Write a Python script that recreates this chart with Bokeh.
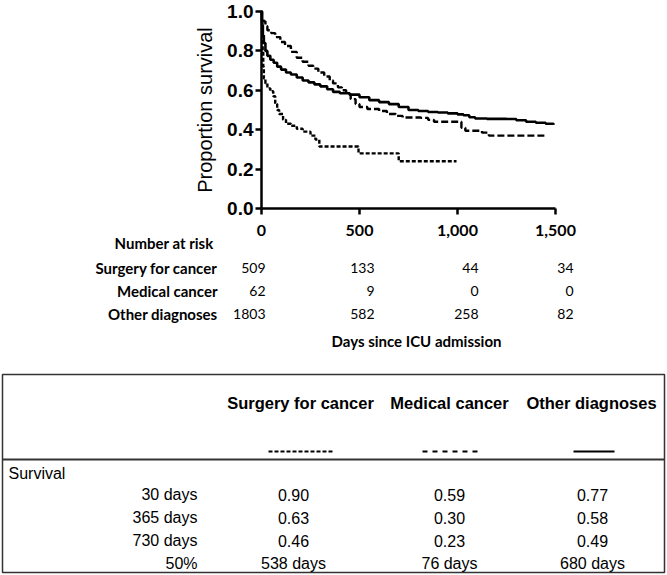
from bokeh.plotting import figure
from bokeh.models import (Range1d, FixedTicker, PrintfTickFormatter,
                          NumeralTickFormatter, ColumnDataSource)
from bokeh.embed import file_html
from bokeh.resources import INLINE
from bokeh.core.properties import value

# ---------------- data ----------------
other_t = [0, 3, 7, 12, 20, 30, 45, 62, 80, 100, 125, 150, 180, 210, 240, 270,
           300, 335, 365, 400, 450, 500, 550, 600, 650, 700, 750, 800, 850, 900,
           950, 1000, 1030, 1060, 1090, 1150, 1250, 1300, 1350, 1400, 1450, 1490]
other_s = [1.0, 0.93, 0.88, 0.84, 0.80, 0.775, 0.755, 0.74, 0.72, 0.705, 0.69, 0.68,
           0.665, 0.65, 0.64, 0.63, 0.62, 0.605, 0.592, 0.585, 0.578, 0.565, 0.55,
           0.54, 0.53, 0.515, 0.50, 0.495, 0.49, 0.487, 0.483, 0.478, 0.473, 0.463,
           0.457, 0.455, 0.454, 0.448, 0.44, 0.435, 0.43, 0.425]

surg_t = [0, 2, 10, 20, 30, 50, 70, 96, 120, 150, 180, 210, 240, 264, 290, 320,
          348, 365, 390, 410, 432, 455, 480, 500, 540, 600, 640, 685, 720, 813,
          850, 880, 1000, 1020, 1040, 1125, 1160, 1455]
surg_s = [1.0, 0.97, 0.95, 0.925, 0.905, 0.89, 0.87, 0.845, 0.825, 0.795, 0.765,
          0.745, 0.725, 0.71, 0.69, 0.67, 0.65, 0.635, 0.615, 0.60, 0.58, 0.555,
          0.53, 0.515, 0.505, 0.495, 0.48, 0.47, 0.462, 0.46, 0.45, 0.44, 0.44,
          0.41, 0.395, 0.385, 0.37, 0.37]

med_t = [0, 2, 4, 6, 9, 12, 20, 30, 45, 60, 70, 80, 90, 110, 125, 150, 180, 210,
         250, 275, 295, 495, 700, 995]
med_s = [1.0, 0.95, 0.87, 0.80, 0.72, 0.66, 0.635, 0.61, 0.595, 0.57, 0.53, 0.50,
         0.48, 0.45, 0.43, 0.42, 0.405, 0.39, 0.37, 0.35, 0.315, 0.28, 0.24, 0.24]

x_ticks = [0, 500, 1000, 1500]
y_ticks = [0.0, 0.2, 0.4, 0.6, 0.8, 1.0]

risk_groups = ["Surgery for cancer", "Medical cancer", "Other diagnoses"]
risk_surgery = [509, 133, 44, 34]
risk_medical = [62, 9, 0, 0]
risk_other = [1803, 582, 258, 82]

table_groups = ["Surgery for cancer", "Medical cancer", "Other diagnoses"]
table_rows = ["30 days", "365 days", "730 days", "50%"]
tab_surgery = ["0.90", "0.63", "0.46", "538 days"]
tab_medical = ["0.59", "0.30", "0.23", "76 days"]
tab_other = ["0.77", "0.58", "0.49", "680 days"]

# ---------------- layout constants ----------------
W, H = 667, 575
X0_PX = 261          # canvas px of day 0
X1500_PX = 555       # canvas px of day 1500
Y0_PX = 208          # canvas px (from top) of survival 0
Y1_PX = 11           # canvas px (from top) of survival 1
K = (X1500_PX - X0_PX) / 1500.0
KY = (Y0_PX - Y1_PX) / 1.0

p = figure(width=W, height=H, output_backend="svg", toolbar_location=None,
           x_range=Range1d(-X0_PX / K, (W - X0_PX) / K),
           y_range=Range1d(-(H - Y0_PX) / KY, Y0_PX / KY),
           min_border=0, min_border_left=0, min_border_right=0,
           min_border_top=0, min_border_bottom=0)
p.extra_x_ranges = {"page": Range1d(0, W)}
p.extra_y_ranges = {"page": Range1d(H, 0)}
p.outline_line_color = None
p.grid.visible = False
p.background_fill_color = "white"
p.border_fill_color = "white"

# ---------------- survival curves ----------------
p.step(other_t, other_s, mode="after", line_color="black", line_width=2.6)
p.step(surg_t, surg_s, mode="after", line_color="black", line_width=2.4,
       line_dash="7 3")
p.step(med_t, med_s, mode="after", line_color="black", line_width=2.4,
       line_dash="4 2")

# ---------------- axes ----------------
xa = p.xaxis[0]
xa.fixed_location = 0
xa.ticker = FixedTicker(ticks=x_ticks)
xa.formatter = NumeralTickFormatter(format="0,0")
xa.bounds = (0, 1500)
ya = p.yaxis[0]
ya.fixed_location = 0
ya.ticker = FixedTicker(ticks=y_ticks)
ya.formatter = PrintfTickFormatter(format="%.1f")
ya.bounds = (0, 1)
for ax in (xa, ya):
    ax.axis_line_width = 2.5
    ax.axis_line_color = "black"
    ax.major_tick_line_width = 2.5
    ax.major_tick_line_color = "black"
    ax.major_tick_out = 6
    ax.major_tick_in = 0
    ax.minor_tick_line_color = None
    ax.major_label_text_color = "black"
xa.major_label_text_font = "Lato"
xa.major_label_text_font_style = "bold"
xa.major_label_text_font_size = "16px"
xa.major_label_standoff = 10
ya.major_label_text_font = "Liberation Sans"
ya.major_label_text_font_style = "bold"
ya.major_label_text_font_size = "19px"
ya.major_label_standoff = 2
ya.axis_label = "Proportion survival"
ya.axis_label_text_font = "Liberation Sans"
ya.axis_label_text_font_style = "normal"
ya.axis_label_text_font_size = "20px"
ya.axis_label_text_color = "black"
ya.axis_label_standoff = 8

CAL = value("Lato")
ARL = value("Liberation Sans")
PG = dict(x_range_name="page", y_range_name="page")

# ---------------- number at risk ----------------
p.text(x=[213], y=[242], text=["Number at risk"], **PG,
       text_font=CAL, text_font_style="bold", text_font_size="15px",
       text_align="right", text_baseline="middle", text_color="black")
risk_y = [267, 290, 313]
p.text(x=[217] * 3, y=risk_y, text=risk_groups, **PG,
       text_font=CAL, text_font_style="bold", text_font_size="15px",
       text_align="right", text_baseline="middle", text_color="black")
risk_offsets = [4, 15, 21, 18]
for series, yy in zip([risk_surgery, risk_medical, risk_other], risk_y):
    src = ColumnDataSource(dict(x=x_ticks, y=[yy] * 4,
                                t=[str(v) for v in series], o=risk_offsets))
    p.text(x="x", y="y", text="t", x_offset="o", source=src, y_range_name="page",
           text_font=CAL, text_font_size="14px", text_align="right",
           text_baseline="middle", text_color="black")
p.text(x=[416], y=[340], text=["Days since ICU admission"], **PG,
       text_font=CAL, text_font_style="bold", text_font_size="15px",
       text_align="center", text_baseline="middle", text_color="black")

# ---------------- table ----------------
p.quad(left=[2], right=[664], top=[374], bottom=[572], **PG,
       fill_color=None, line_color="#333333", line_width=1.5)
p.segment(x0=[2], x1=[664], y0=[459], y1=[459], **PG,
          line_color="#333333", line_width=2)
head_x = [300, 449, 591]
p.text(x=head_x, y=[402] * 3, text=table_groups, **PG,
       text_font=ARL, text_font_style="bold", text_font_size="16.5px",
       text_align="center", text_baseline="middle", text_color="black")
p.segment(x0=[268], x1=[333], y0=[451], y1=[451], **PG,
          line_color="black", line_width=2, line_dash="4 2")
p.segment(x0=[422], x1=[478], y0=[451], y1=[451], **PG,
          line_color="black", line_width=2, line_dash="5 5")
p.segment(x0=[573], x1=[614], y0=[451], y1=[451], **PG,
          line_color="black", line_width=2.2)
p.text(x=[8], y=[473], text=["Survival"], **PG,
       text_font=ARL, text_font_size="16px", text_align="left",
       text_baseline="middle", text_color="black")
row_y = [494, 517, 540, 563]
p.text(x=[197] * 4, y=row_y, text=table_rows, **PG,
       text_font=ARL, text_font_size="16px", text_align="right",
       text_baseline="middle", text_color="black")
val_x = [293, 449, 592]
for vals, xx in zip([tab_surgery, tab_medical, tab_other], val_x):
    p.text(x=[xx] * 4, y=row_y, text=vals, **PG,
           text_font=ARL, text_font_size="16px", text_align="center",
           text_baseline="middle", text_color="black")

open("out.html", "w").write(file_html(p, INLINE))
